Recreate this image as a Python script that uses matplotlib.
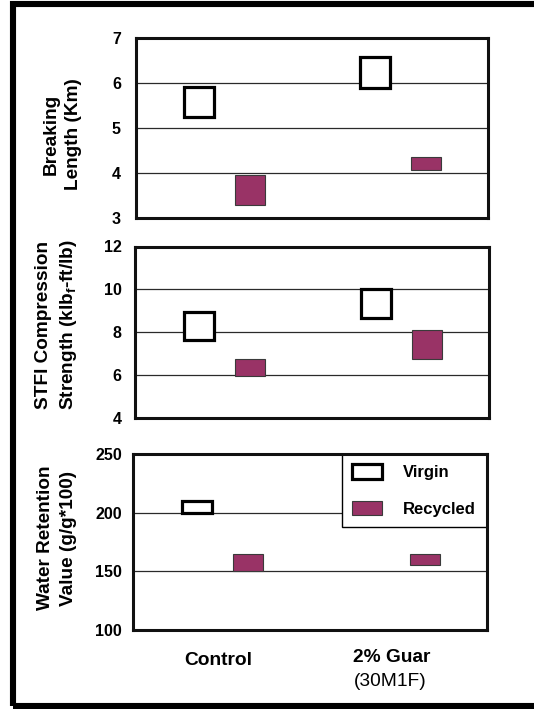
import matplotlib
matplotlib.use("Agg")
import matplotlib.pyplot as plt
from matplotlib.patches import Rectangle
from matplotlib.transforms import blended_transform_factory
import numpy as np

plt.rcParams['font.family'] = ['Liberation Sans', 'DejaVu Sans']
plt.rcParams['mathtext.fontset'] = 'custom'
plt.rcParams['mathtext.rm'] = 'Liberation Sans'
plt.rcParams['mathtext.bf'] = 'Liberation Sans:bold'
plt.rcParams['mathtext.it'] = 'Liberation Sans:italic'

# ---------------- data ----------------
categories = ['Control', '2% Guar']
category_notes = ['', '(30M1F)']
series = ['Virgin', 'Recycled']

# Breaking length (Km): low / high of each box
bl_virgin_low = [5.25, 5.90]
bl_virgin_high = [5.92, 6.58]
bl_recycled_low = [3.30, 4.07]
bl_recycled_high = [3.95, 4.35]

# STFI compression strength (klbf-ft/lb)
stfi_virgin_low = [7.63, 8.66]
stfi_virgin_high = [8.94, 10.04]
stfi_recycled_low = [5.94, 6.75]
stfi_recycled_high = [6.75, 8.12]

# Water retention value (g/g*100)
wrv_virgin_low = [200, np.nan]
wrv_virgin_high = [210, np.nan]
wrv_recycled_low = [150, 155]
wrv_recycled_high = [165, 165]

bl_ticks = [3, 4, 5, 6, 7]
stfi_ticks = [4, 6, 8, 10, 12]
wrv_ticks = [100, 150, 200, 250]

ylabels = ['Breaking\nLength (Km)',
           'STFI Compression\nStrength (klb$_\\mathbf{f}$-ft/lb)',
           'Water Retention\nValue (g/g*100)']

# ---------------- figure ----------------
W, H = 534, 709
fig = plt.figure(figsize=(W / 100, H / 100), dpi=100)


def fx(px):
    return px / W


def fy(py):
    return 1 - py / H


# axes boxes in pixels: left, right, top, bottom
boxes = [(136, 488, 38, 218), (135, 489, 246.5, 418), (133, 486.5, 454, 630)]
axes = []
for (l, r, t, b) in boxes:
    ax = fig.add_axes([fx(l), fy(b), (r - l) / W, (b - t) / H])
    axes.append(ax)

MAROON = '#993366'
virgin_style = dict(facecolor='white', edgecolor='black', linewidth=2.3)
recycled_style = dict(facecolor=MAROON, edgecolor='#3a3a3a', linewidth=0.8)
x = np.arange(len(categories)) + 0.5
off_v, off_r, bw = -0.14, 0.15, 0.17

panels = [
    (bl_virgin_low, bl_virgin_high, bl_recycled_low, bl_recycled_high, bl_ticks),
    (stfi_virgin_low, stfi_virgin_high, stfi_recycled_low, stfi_recycled_high, stfi_ticks),
    (wrv_virgin_low, wrv_virgin_high, wrv_recycled_low, wrv_recycled_high, wrv_ticks),
]
tick_pads = [10.8, 9.6, 7.9]
label_x = [62, 57, 57]
label_y = [134.5, 325, 538]

handles = None
for i, (ax, (vl, vh, rl, rh, ticks)) in enumerate(zip(axes, panels)):
    vl, vh, rl, rh = map(np.asarray, (vl, vh, rl, rh))
    bv = ax.bar(x + off_v, vh - vl, bottom=vl, width=bw, label=series[0],
                zorder=3, **virgin_style)
    br = ax.bar(x + off_r, rh - rl, bottom=rl, width=bw, label=series[1],
                zorder=3, **recycled_style)
    handles = (bv, br)
    ax.set_xlim(0, 2)
    ax.set_ylim(ticks[0], ticks[-1])
    ax.set_yticks(ticks)
    ax.set_yticklabels([str(t) for t in ticks], fontsize=11.5, fontweight='bold')
    ax.set_xticks([])
    ax.tick_params(axis='y', length=0, pad=tick_pads[i])
    ax.set_axisbelow(True)
    ax.yaxis.grid(True, color='#2a2a2a', linewidth=0.9)
    for sp in ax.spines.values():
        sp.set_linewidth(2.2)
        sp.set_color('#111111')
        sp.set_zorder(5)
    fig.text(fx(label_x[i]), fy(label_y[i]), ylabels[i], rotation=90,
             ha='center', va='center', multialignment='center',
             fontsize=13.7, fontweight='bold', linespacing=1.4)

ax3 = axes[2]
leg = ax3.legend(handles=list(handles), labels=series, loc='upper right',
                 bbox_to_anchor=(1, 1), borderaxespad=0, fancybox=False,
                 framealpha=1, edgecolor='black',
                 prop={'weight': 'bold', 'size': 12},
                 handlelength=1.8, handleheight=0.95, handletextpad=1.25,
                 labelspacing=1.25, borderpad=0.62)
leg.get_frame().set_linewidth(1.0)
leg.set_zorder(4)

# category labels under the bottom panel
trans = blended_transform_factory(ax3.transData, ax3.transAxes)
ax3.text(x[0] - 0.02, -0.199, categories[0], transform=trans, ha='center',
         va='baseline', fontsize=13.8, fontweight='bold')
ax3.text(x[1] - 0.253, -0.182, categories[1], transform=trans, ha='left',
         va='baseline', fontsize=13.8, fontweight='bold')
ax3.text(x[1] - 0.253, -0.318, category_notes[1], transform=trans, ha='left',
         va='baseline', fontsize=13.8)

# outer frame
fig.add_artist(Rectangle((fx(13), fy(706)), fx(545) - fx(13), fy(4) - fy(706),
                         transform=fig.transFigure, fill=False,
                         linewidth=4.4, edgecolor='black'))

fig.savefig('out.png', dpi=100)
